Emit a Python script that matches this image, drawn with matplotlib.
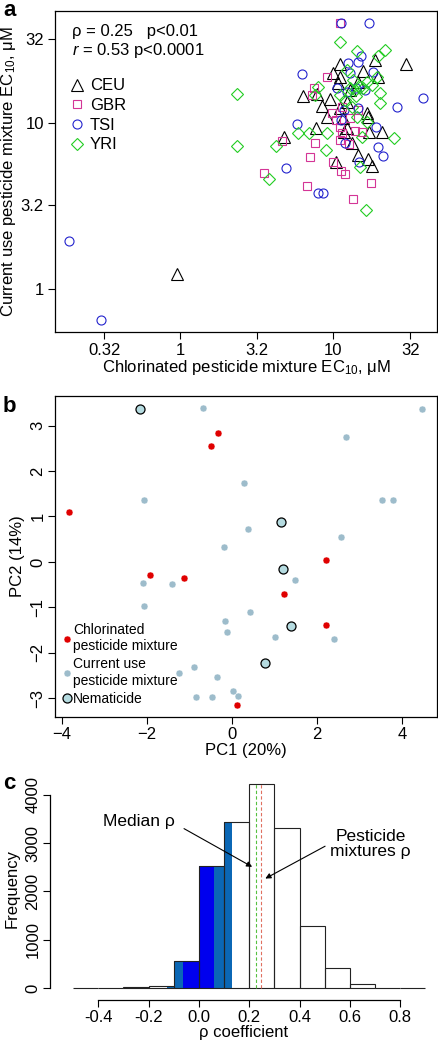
import matplotlib.pyplot as plt
from matplotlib.lines import Line2D
import numpy as np

plt.rcParams['font.family'] = ['Liberation Sans', 'DejaVu Sans']
plt.rcParams['mathtext.fontset'] = 'custom'
plt.rcParams['mathtext.rm'] = 'Liberation Sans'
plt.rcParams['mathtext.it'] = 'Liberation Sans:italic'
plt.rcParams['axes.linewidth'] = 0.9

# ---- panel a: EC10 of chlorinated vs current use mixtures (uM) ----
ceu_x = [30.0, 18.8, 11.1, 10.0, 15.7, 19.7, 14.6, 10.8, 6.37, 7.86, 9.56, 8.48, 12.4, 11.1,
         9.14, 16.7, 16.9, 11.6, 7.74, 4.78, 12.4, 17.2, 20.9, 14.6, 10.5, 16.9, 18.0, 11.1,
         12.9, 0.956, 13.3, 11.8]
ceu_y = [22.7, 24.0, 22.7, 20.0, 20.6, 18.9, 17.7, 17.4, 14.5, 15.0, 14.0, 12.7, 13.4, 12.3,
         10.9, 11.5, 10.9, 10.7, 9.33, 8.24, 9.33, 8.83, 8.83, 6.42, 5.82, 6.07, 5.51, 18.9,
         15.8, 1.23, 7.58, 8.83]
gbr_x = [11.1, 9.14, 7.51, 7.29, 9.85, 11.45, 14.6, 11.1, 11.45, 13.9, 15.5, 11.1, 12.7,
         7.63, 7.07, 10.0, 11.3, 12.0, 3.54, 6.76, 17.7, 13.5, 4.64, 10.5, 12.9]
gbr_y = [40.0, 18.9, 16.25, 14.75, 11.5, 12.5, 12.0, 9.46, 8.71, 8.95, 8.83, 7.90, 7.47,
         7.58, 6.24, 5.82, 5.14, 4.93, 5.00, 4.17, 4.35, 3.48, 7.79, 10.4, 10.7]
tsi_x = [11.3, 17.2, 15.2, 14.6, 12.5, 6.27, 12.9, 18.25, 10.6, 12.35, 16.2, 38.7, 26.2,
         11.8, 14.6, 5.82, 19.1, 12.0, 19.7, 21.2, 14.8, 4.93, 7.98, 8.60, 0.188, 0.305,
         11.3, 14.1]
tsi_y = [40.0, 40.0, 25.3, 23.3, 23.0, 19.7, 20.0, 20.3, 16.25, 15.4, 15.8, 14.15, 12.5,
         12.0, 12.3, 9.86, 9.46, 7.58, 7.17, 6.33, 5.82, 5.36, 3.79, 3.79, 1.95, 0.65,
         10.4, 16.25]
yri_x = [11.1, 14.35, 21.9, 19.7, 2.36, 2.36, 4.24, 3.82, 7.98, 7.63, 5.91, 6.97, 9.14,
         9.0, 15.0, 20.3, 20.3, 25.05, 15.5, 16.7, 13.5, 16.7, 18.0, 19.4, 12.35, 12.9,
         13.9, 15.0, 15.7, 13.3, 14.35, 16.4, 11.1, 14.1, 12.0]
yri_y = [30.8, 27.15, 27.5, 25.3, 14.95, 7.27, 7.27, 4.60, 16.5, 14.75, 8.71, 8.71, 8.71,
         6.88, 5.43, 13.2, 15.16, 8.12, 8.24, 10.1, 18.2, 17.7, 16.9, 18.9, 20.9, 16.25,
         15.8, 16.5, 16.25, 12.5, 10.9, 2.99, 14.75, 14.5, 13.7]

# ---- panel b: PCA of pesticides ----
chl_pc1 = [-0.33, -0.5, -3.83, 2.2, -1.92, -1.13, 1.21, 2.2, 0.12]
chl_pc2 = [2.84, 2.55, 1.1, 0.04, -0.29, -0.35, -0.70, -1.39, -3.14]
cur_pc1 = [-0.68, 4.46, 2.67, 0.29, -2.07, 3.53, 3.77, 0.38, 2.55, -0.19, 1.47, -2.1, -1.41,
           -2.07, 0.43, -0.17, -0.11, 1.0, 2.4, -0.89, -1.25, -0.35, 0.02, 0.13, -0.85, -0.48]
cur_pc2 = [3.38, 3.36, 2.75, 1.73, 1.36, 1.36, 1.36, 0.72, 0.55, 0.33, -0.4, -0.46, -0.48,
           -0.97, -1.11, -1.3, -1.53, -1.65, -1.69, -2.3, -2.44, -2.54, -2.84, -2.94, -2.98, -2.98]
nem_pc1 = [-2.16, 1.14, 1.19, 1.38, 0.77]
nem_pc2 = [3.36, 0.88, -0.15, -1.4, -2.22]

# ---- panel c: permutation histogram of rho ----
bin_edges = [-0.5, -0.4, -0.3, -0.2, -0.1, 0.0, 0.1, 0.2, 0.3, 0.4, 0.5, 0.6, 0.7, 0.8, 0.9]
bin_counts = [0, 0, 15, 48, 552, 2531, 3450, 4230, 3310, 1276, 414, 90, 8, 1]
shade_from = [-0.128, -0.062, 0.059]
shade_to = [-0.062, 0.059, 0.132]
shade_cols = ['#0b67b5', '#0000ee', '#0b67b5']
median_rho = 0.228
mixture_rho = 0.248

W, H = 438, 1049
fig = plt.figure(figsize=(W / 100, H / 100), dpi=100)

# ---------------- a ----------------
ax = fig.add_axes([55 / W, 1 - 332 / H, 382 / W, 321 / H])
ax.plot(ceu_x, ceu_y, ls='none', marker='^', mfc='none', mec='black', ms=8, mew=0.8, label='CEU')
ax.plot(gbr_x, gbr_y, ls='none', marker='s', mfc='none', mec='#d43596', ms=5.5, mew=0.8, label='GBR')
ax.plot(tsi_x, tsi_y, ls='none', marker='o', mfc='none', mec='#2323cd', ms=6.5, mew=0.8, label='TSI')
ax.plot(yri_x, yri_y, ls='none', marker='D', mfc='none', mec='#22cc22', ms=6.5, mew=0.8, label='YRI')
ax.set_xscale('log')
ax.set_yscale('log')
ax.set_xlim(0.152, 47.9)
ax.set_ylim(0.55, 47.3)
ticks = [0.32, 1, 3.2, 10, 32]
ax.set_xticks(ticks, ['0.32', '1', '3.2', '10', '32'])
ax.set_yticks([1, 3.2, 10, 32], ['1', '3.2', '10', '32'])
ax.minorticks_off()
ax.tick_params(labelsize=12, length=5, width=0.8, pad=3)
ax.set_xlabel('Chlorinated pesticide mixture EC$_{10}$, μM', fontsize=12, labelpad=0)
ax.set_ylabel('Current use pesticide mixture EC$_{10}$, μM', fontsize=12, labelpad=2)
ax.text(0.045, 0.935, 'ρ = 0.25   p<0.01', transform=ax.transAxes, fontsize=12, va='center')
ax.text(0.045, 0.878, '$r$ = 0.53 p<0.0001', transform=ax.transAxes, fontsize=12, va='center')
ax.legend(loc='upper left', bbox_to_anchor=(0.035, 0.79), frameon=False, fontsize=12,
          handlelength=1.0, handletextpad=0.3, labelspacing=0.28, borderpad=0, borderaxespad=0)

# ---------------- b ----------------
bx = fig.add_axes([55 / W, 1 - 717 / H, 382 / W, 321 / H])
bx.plot(cur_pc1, cur_pc2, ls='none', marker='o', ms=5, mfc='#9dbccb', mec='white', mew=0.3)
bx.plot(chl_pc1, chl_pc2, ls='none', marker='o', ms=5, mfc='#e00000', mec='white', mew=0.3)
bx.plot(nem_pc1, nem_pc2, ls='none', marker='o', ms=6.5, mfc='#b5dbe0', mec='black', mew=0.9)
bx.set_xlim(-4.155, 4.81)
bx.set_ylim(-3.41, 3.65)
bx.set_xticks([-4, -2, 0, 2, 4])
bx.set_yticks([-3, -2, -1, 0, 1, 2, 3])
bx.tick_params(labelsize=12, length=5, width=0.8, pad=2)
bx.tick_params(axis='y', labelrotation=90)
for lab in bx.get_yticklabels():
    lab.set_va('center')
bx.set_xlabel('PC1 (20%)', fontsize=12, labelpad=1)
bx.set_ylabel('PC2 (14%)', fontsize=12, labelpad=4)
handles = [Line2D([], [], ls='none', marker='o', ms=5, mfc='#e00000', mec='white', mew=0.3),
           Line2D([], [], ls='none', marker='o', ms=5, mfc='#9dbccb', mec='white', mew=0.3),
           Line2D([], [], ls='none', marker='o', ms=6.5, mfc='#b5dbe0', mec='black', mew=0.9)]
bx.legend(handles, ['Chlorinated\npesticide mixture', 'Current use\npesticide mixture', 'Nematicide'],
          loc='lower left', bbox_to_anchor=(0.02, 0.035), frameon=False, fontsize=10,
          handlelength=0.6, handletextpad=0.15, labelspacing=0.3, borderpad=0, borderaxespad=0)

# ---------------- c ----------------
cx = fig.add_axes([50 / W, 1 - 1000 / H, 387 / W, 222 / H])
lefts = np.array(bin_edges[:-1])
cx.bar(lefts, bin_counts, width=0.1, align='edge', facecolor='white', edgecolor='none')
for a, b, col in zip(shade_from, shade_to, shade_cols):
    for i, l in enumerate(lefts):
        lo, hi = max(a, l), min(b, l + 0.1)
        if hi > lo:
            cx.bar(lo, bin_counts[i], width=hi - lo, align='edge', facecolor=col, edgecolor='none')
cx.bar(lefts, bin_counts, width=0.1, align='edge', facecolor='none', edgecolor='#222222', lw=0.8)
cx.vlines(median_rho, 0, bin_counts[7], colors='#55c040', linestyles=(0, (3, 2)), lw=0.8)
cx.vlines(mixture_rho, 0, bin_counts[7], colors='#e07060', linestyles=(0, (3, 2)), lw=0.8)
cx.annotate('', xy=(0.221, 2483), xytext=(-0.069, 3331),
            arrowprops=dict(arrowstyle='-|>', color='black', lw=0.8, mutation_scale=8))
cx.annotate('', xy=(0.254, 2241), xytext=(0.511, 2966),
            arrowprops=dict(arrowstyle='-|>', color='black', lw=0.8, mutation_scale=8))
cx.text(-0.237, 3448, 'Median ρ', fontsize=12.5, ha='center', va='center')
cx.text(0.682, 2983, 'Pesticide\nmixtures ρ', fontsize=12.5, ha='center', va='center',
        linespacing=1.05)
cx.set_xlim(-0.592, 0.946)
cx.set_ylim(-249, 4352)
cx.spines['top'].set_visible(False)
cx.spines['right'].set_visible(False)
cx.spines['left'].set_bounds(0, 4000)
cx.spines['bottom'].set_bounds(-0.4, 0.8)
cx.set_xticks([-0.4, -0.2, 0.0, 0.2, 0.4, 0.6, 0.8], ['-0.4', '-0.2', '0.0', '0.2', '0.4', '0.6', '0.8'])
cx.set_yticks([0, 1000, 2000, 3000, 4000])
cx.tick_params(labelsize=12, length=5, width=0.8, pad=2)
cx.tick_params(axis='y', labelrotation=90)
for lab in cx.get_yticklabels():
    lab.set_va('center')
cx.set_xlabel('ρ coefficient', fontsize=12, labelpad=0)
cx.set_ylabel('Frequency', fontsize=12, labelpad=4)

fig.text(3 / W, 1 - 16 / H, 'a', fontsize=16, fontweight='bold')
fig.text(3 / W, 1 - 412 / H, 'b', fontsize=16, fontweight='bold')
fig.text(3 / W, 1 - 789 / H, 'c', fontsize=16, fontweight='bold')

fig.savefig('out.png', dpi=100)
